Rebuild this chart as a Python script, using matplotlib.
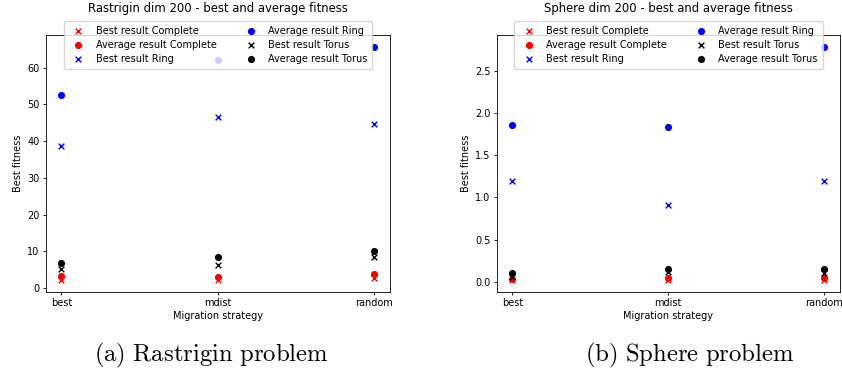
import matplotlib.pyplot as plt

strategies = ['best', 'mdist', 'random']

# Rastrigin dim 200
rast_best_complete = [2.1, 2.1, 2.7]
rast_avg_complete = [3.2, 3.0, 3.9]
rast_best_ring = [38.7, 46.5, 44.7]
rast_avg_ring = [52.7, 62.0, 65.7]
rast_best_torus = [5.2, 6.4, 8.5]
rast_avg_torus = [6.8, 8.6, 10.0]

# Sphere dim 200
sph_best_complete = [0.02, 0.03, 0.02]
sph_avg_complete = [0.04, 0.043, 0.043]
sph_best_ring = [1.19, 0.91, 1.20]
sph_avg_ring = [1.853, 1.837, 2.78]
sph_best_torus = [0.06, 0.12, 0.106]
sph_avg_torus = [0.106, 0.158, 0.158]

fig = plt.figure(figsize=(8.42, 3.74), dpi=100)
ax1 = fig.add_axes([0.0543, 0.219, 0.409, 0.687])
ax2 = fig.add_axes([0.590, 0.219, 0.4074, 0.687])

fs = 7
s = 17


def draw(ax, title, bc, ac, br, ar, bt, at):
    ax.scatter(strategies, bc, marker='x', color='red', s=s, linewidths=1.0, label='Best result Complete')
    ax.scatter(strategies, ac, marker='o', color='red', s=s, label='Average result Complete')
    ax.scatter(strategies, br, marker='x', color='blue', s=s, linewidths=1.0, label='Best result Ring')
    ax.scatter(strategies, ar, marker='o', color='blue', s=s, label='Average result Ring')
    ax.scatter(strategies, bt, marker='x', color='black', s=s, linewidths=1.0, label='Best result Torus')
    ax.scatter(strategies, at, marker='o', color='black', s=s, label='Average result Torus')
    ax.set_title(title, fontsize=8.4, pad=17)
    ax.set_xlabel('Migration strategy', fontsize=fs, labelpad=2)
    ax.set_ylabel('Best fitness', fontsize=fs, labelpad=3)
    ax.tick_params(labelsize=fs, length=2.5, width=0.6, pad=2)
    for sp in ax.spines.values():
        sp.set_linewidth(0.6)
    ax.legend(loc='upper center', bbox_to_anchor=(0.5, 1.075), ncol=2, fontsize=fs,
              handletextpad=0.8, columnspacing=2.5, borderpad=0.5, labelspacing=0.42,
              handlelength=2.0, framealpha=0.8)


draw(ax1, 'Rastrigin dim 200 - best and average fitness',
     rast_best_complete, rast_avg_complete, rast_best_ring, rast_avg_ring, rast_best_torus, rast_avg_torus)
draw(ax2, 'Sphere dim 200 - best and average fitness',
     sph_best_complete, sph_avg_complete, sph_best_ring, sph_avg_ring, sph_best_torus, sph_avg_torus)

plt.rcParams['mathtext.fontset'] = 'cm'
fig.text(0.251, 0.05, r'$\mathrm{(a)\ Rastrigin\ problem}$', ha='center', va='center', fontsize=17.8)
fig.text(0.819, 0.05, r'$\mathrm{(b)\ Sphere\ problem}$', ha='center', va='center', fontsize=17.8)

fig.savefig('out.png', dpi=100)
